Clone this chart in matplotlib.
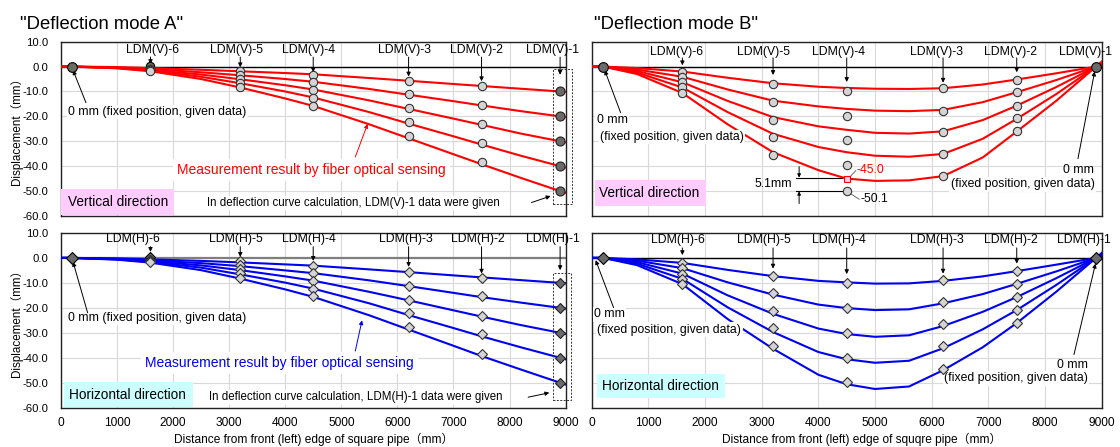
import matplotlib
matplotlib.use("Agg")
import matplotlib.pyplot as plt
from matplotlib.patches import Rectangle

plt.rcParams['font.family'] = ['Liberation Sans', 'Noto Sans CJK JP']

# sensor positions (mm)
fixed_x = 200
ldm_x = [1600, 3200, 4500, 6200, 7500]
ldm1_x = 8900

# deflection curves, mode A (sample positions along the pipe)
xa = [0, 200, 1000, 1600, 2500, 3200, 4000, 4500, 5500, 6200, 7000, 7500, 8200, 8900, 9000]
curveA_V = [
    [0, 0, -0.2, -0.6, -1.3, -1.9, -2.6, -3.1, -4.6, -5.7, -7.0, -7.8, -8.9, -10.0, -10.15],
    [0, 0, -0.4, -1.0, -2.3, -3.5, -5.0, -6.1, -9.0, -11.3, -13.9, -15.6, -17.9, -20.0, -20.3],
    [0, 0, -0.5, -1.3, -3.2, -5.1, -7.5, -9.2, -13.6, -17.0, -20.9, -23.4, -26.9, -30.0, -30.45],
    [0, 0, -0.6, -1.6, -4.1, -6.7, -10.0, -12.4, -18.3, -22.9, -28.0, -31.3, -35.8, -40.0, -40.6],
    [0, 0, -0.7, -1.9, -5.0, -8.4, -12.8, -15.8, -23.2, -28.8, -35.2, -39.2, -44.7, -50.0, -50.75],
]
curveA_H = [
    [0, 0, -0.2, -0.6, -1.2, -1.8, -2.6, -3.1, -4.6, -5.7, -7.0, -7.8, -8.9, -10.0, -10.15],
    [0, 0, -0.4, -1.0, -2.1, -3.3, -5.0, -6.1, -9.0, -11.3, -14.0, -15.7, -17.9, -20.0, -20.3],
    [0, 0, -0.5, -1.3, -3.0, -4.9, -7.4, -9.1, -13.6, -17.0, -21.0, -23.5, -26.9, -30.0, -30.45],
    [0, 0, -0.6, -1.6, -3.9, -6.6, -9.9, -12.3, -18.2, -22.9, -28.1, -31.4, -35.8, -40.0, -40.6],
    [0, 0, -0.7, -1.9, -4.9, -8.3, -12.6, -15.6, -23.0, -28.7, -35.2, -39.3, -44.7, -50.0, -50.75],
]

# deflection curves, mode B
xb = [0, 200, 800, 1600, 2400, 3200, 4000, 4500, 5000, 5600, 6200, 6900, 7500, 8200, 8900, 9000]
curveB_V = [
    [0, 0, -0.6, -2.0, -4.5, -6.7, -8.1, -8.6, -8.9, -9.0, -8.7, -7.2, -5.2, -2.7, 0, 0.4],
    [0, 0, -1.2, -4.1, -9.2, -13.7, -16.0, -17.0, -17.7, -17.9, -17.4, -14.3, -10.3, -5.4, 0, 0.8],
    [0, 0, -1.8, -6.3, -13.8, -20.3, -24.0, -25.4, -26.6, -26.9, -26.0, -21.5, -15.7, -8.2, 0, 1.2],
    [0, 0, -2.4, -8.4, -18.3, -27.0, -32.3, -34.4, -35.8, -36.2, -35.1, -29.0, -21.0, -11.0, 0, 1.6],
    [0, 0, -3.0, -10.6, -23.2, -34.4, -41.6, -45.0, -45.9, -45.7, -44.0, -36.5, -26.1, -13.7, 0, 2.0],
]
curveB_H = [
    [0, 0, -0.6, -2.0, -4.8, -7.3, -9.2, -9.8, -10.3, -10.2, -9.2, -7.4, -5.3, -2.7, 0, 0.4],
    [0, 0, -1.1, -4.1, -9.8, -14.7, -18.7, -20.1, -20.9, -20.6, -18.2, -14.5, -10.4, -5.4, 0, 0.8],
    [0, 0, -1.7, -6.3, -15.0, -22.4, -28.3, -30.5, -31.6, -31.0, -27.3, -21.6, -15.7, -8.1, 0, 1.2],
    [0, 0, -2.3, -8.4, -19.8, -29.7, -37.7, -40.6, -42.0, -41.2, -36.2, -28.6, -20.9, -10.8, 0, 1.6],
    [0, 0, -2.9, -10.5, -24.5, -36.4, -46.8, -50.6, -52.5, -51.5, -45.0, -35.8, -26.1, -13.5, 0, 2.0],
]

# measured values at LDM-6 .. LDM-2 for each loading case
measA_V = [
    [-0.8, -1.9, -3.2, -5.9, -7.8],
    [-1.0, -3.5, -6.2, -11.2, -15.5],
    [-1.2, -5.1, -9.4, -16.7, -23.2],
    [-1.4, -6.7, -12.6, -22.2, -30.8],
    [-1.6, -8.3, -15.8, -28.0, -38.4],
]
measA_H = [
    [-0.8, -1.2, -3.2, -5.7, -7.9],
    [-1.0, -2.8, -6.1, -11.3, -15.3],
    [-1.2, -4.4, -9.1, -16.7, -23.1],
    [-1.4, -6.2, -12.3, -22.0, -30.5],
    [-1.6, -8.0, -15.3, -27.6, -38.4],
]
measB_V = [
    [-2.0, -7.2, -9.9, -8.8, -5.2],
    [-4.1, -14.2, -19.8, -17.7, -10.3],
    [-6.3, -21.3, -29.6, -26.4, -15.7],
    [-8.4, -28.4, -39.5, -35.2, -20.7],
    [-10.6, -35.5, -50.1, -44.0, -26.0],
]
measB_H = [
    [-2.0, -7.1, -10.0, -8.9, -5.3],
    [-4.1, -14.0, -20.1, -17.6, -10.4],
    [-6.3, -21.1, -30.1, -26.4, -15.7],
    [-8.4, -28.1, -39.9, -35.2, -20.9],
    [-10.5, -35.2, -49.9, -44.3, -26.1],
]
# LDM-1 values given to the calculation (mode A)
givenA = [-10, -20, -30, -40, -50]
ldm6_top = 0.3

LIGHT = '#D4D4D4'
DARK = '#6A6A6A'
FS = 8.6


def arrow(ax, xy, xytext, color='black', lw=0.7, ms=6):
    ax.annotate('', xy=xy, xytext=xytext,
                arrowprops=dict(arrowstyle='-|>', color=color, lw=lw,
                                mutation_scale=ms, shrinkA=0, shrinkB=0),
                annotation_clip=False)


def base(ax, zero_color='black', zero_lw=1.0):
    ax.set_xlim(0, 9000)
    ax.set_ylim(-60, 10)
    ax.set_xticks(range(0, 9001, 1000))
    ax.set_yticks(range(-60, 11, 10))
    ax.set_yticklabels(['%.1f' % v for v in range(-60, 11, 10)])
    ax.grid(True, color='#D9D9D9', lw=0.8)
    ax.set_axisbelow(True)
    ax.tick_params(length=0, labelsize=FS)
    ax.tick_params(axis='y', pad=8.9, labelsize=8.1)
    ax.tick_params(axis='x', pad=6.5)
    for s in ax.spines.values():
        s.set_color('#222222')
        s.set_linewidth(1.0)
    ax.axhline(0, color=zero_color, lw=zero_lw, zorder=2)


def ldm_labels(ax, tag, label_x, label_y, tips, arr_from):
    names = ['LDM(%s)-6' % tag, 'LDM(%s)-5' % tag, 'LDM(%s)-4' % tag,
             'LDM(%s)-3' % tag, 'LDM(%s)-2' % tag, 'LDM(%s)-1' % tag]
    for name, lx in zip(names, label_x):
        ax.text(lx, label_y, name, ha='center', va='center', fontsize=8.8)
    for x, t in zip(ldm_x + [ldm1_x], tips):
        if t is not None:
            arrow(ax, (x, t), (x, arr_from))


fig = plt.figure(figsize=(11.2, 4.47), dpi=100)
ax_tl = fig.add_axes([0.0542, 0.5168, 0.4509, 0.390])
ax_bl = fig.add_axes([0.0542, 0.0879, 0.4509, 0.391])
ax_tr = fig.add_axes([0.5283, 0.5168, 0.4554, 0.390])
ax_br = fig.add_axes([0.5283, 0.0879, 0.4554, 0.391])

base(ax_tl)
base(ax_bl, zero_color='#7F7F7F', zero_lw=1.6)
base(ax_tr)
base(ax_br)
ax_tl.tick_params(labelbottom=False)
ax_tr.tick_params(labelbottom=False, labelleft=False)
ax_br.tick_params(labelleft=False)

ylab = 'Displacement（mm）'
for ax in (ax_tl, ax_bl):
    ax.set_ylabel(ylab, fontsize=8.4)
    ax.yaxis.set_label_coords(-0.075, 0.5)
ax_bl.set_xlabel('Distance from front (left) edge of square pipe（mm）', fontsize=FS)
ax_br.set_xlabel('Distance from front (left) edge of squqre pipe（mm）', fontsize=FS)
ax_bl.xaxis.set_label_coords(0.5, -0.145)
ax_br.xaxis.set_label_coords(0.53, -0.145)

fig.text(0.0175, 0.945, '"Deflection mode A"', fontsize=13.3, va='center')
fig.text(0.530, 0.945, '"Deflection mode B"', fontsize=13.3, va='center')

# ---- mode A, vertical
ax = ax_tl
for c in curveA_V:
    ax.plot(xa, c, color='red', lw=1.5, zorder=3, solid_joinstyle='round')
ax.plot(fixed_x, 0, 'o', mfc=DARK, mec='black', ms=7, mew=0.8, zorder=6)
ax.plot(ldm_x[0], ldm6_top, 'o', mfc=DARK, mec='black', ms=6, mew=0.8, zorder=5)
for m in measA_V:
    ax.plot(ldm_x, m, 'o', mfc=LIGHT, mec='#333333', ms=6, mew=0.8, zorder=6)
ax.plot([ldm1_x] * 5, givenA, 'o', mfc=DARK, mec='#222222', ms=6.5, mew=0.8, zorder=6)
ldm_labels(ax, 'V', [1630, 3130, 4420, 6130, 7410, 8770], 6.6,
           [1.0, -0.3, -2.3, -4.0, -5.9, -3.3], 3.8)
ax.add_patch(Rectangle((8768, -55.3), 339, 54.2, fill=False, ls=(0, (2, 1.5)),
                       lw=0.7, ec='#333333', clip_on=False, zorder=4))
ax.text(130, -18.3, '0 mm (fixed position, given data)', fontsize=8.8, va='center',
        bbox=dict(fc='white', ec='none', pad=1))
arrow(ax, (220, -1.5), (450, -14.5))
ax.text(4465, -41.5, 'Measurement result by fiber optical sensing', color='red',
        fontsize=10, ha='center', va='center', bbox=dict(fc='white', ec='none', pad=3))
arrow(ax, (5470, -23.0), (5250, -36.3), color='red')
ax.add_patch(Rectangle((5, -59.7), 2015, 10.6, fc='#FFCCFF', ec='none', zorder=4))
ax.text(130, -54.4, 'Vertical direction', fontsize=9.8, va='center', zorder=5)
ax.text(2612, -54.8, 'In deflection curve calculation, LDM(V)-1 data were given',
        fontsize=8.3, va='center', bbox=dict(fc='white', ec='none', pad=1))
arrow(ax, (8730, -52.0), (8390, -54.6))

# ---- mode A, horizontal
ax = ax_bl
for c in curveA_H:
    ax.plot(xa, c, color='#0000F0', lw=1.5, zorder=3, solid_joinstyle='round')
ax.plot(fixed_x, 0, 'D', mfc=DARK, mec='black', ms=6, mew=0.8, zorder=6)
ax.plot(ldm_x[0], ldm6_top, 'D', mfc=DARK, mec='black', ms=5.5, mew=0.8, zorder=5)
for m in measA_H:
    ax.plot(ldm_x, m, 'D', mfc=LIGHT, mec='#333333', ms=5.5, mew=0.8, zorder=6)
ax.plot([ldm1_x] * 5, givenA, 'D', mfc=DARK, mec='#222222', ms=5.5, mew=0.8, zorder=6)
ldm_labels(ax, 'H', [1295, 3130, 4430, 6155, 7440, 8770], 7.4,
           [2.4, 0.4, -1.2, -3.6, -6.3, -4.9], 4.5)
ax.add_patch(Rectangle((8768, -57.1), 327, 51.1, fill=False, ls=(0, (2, 1.5)),
                       lw=0.7, ec='#333333', clip_on=False, zorder=4))
ax.text(130, -24.1, '0 mm (fixed position, given data)', fontsize=8.8, va='center',
        bbox=dict(fc='white', ec='none', pad=1))
arrow(ax, (220, -1.6), (480, -22.0))
ax.text(3900, -42.2, 'Measurement result by fiber optical sensing', color='#0000F0',
        fontsize=10, ha='center', va='center', bbox=dict(fc='white', ec='none', pad=3))
arrow(ax, (5370, -25.0), (5250, -37.3), color='#0000F0')
ax.add_patch(Rectangle((50, -59.8), 2310, 10.0, fc='#CCFFFF', ec='none', zorder=4))
ax.text(140, -54.8, 'Horizontal direction', fontsize=9.8, va='center', zorder=5)
ax.text(2650, -55.8, 'In deflection curve calculation, LDM(H)-1 data were given',
        fontsize=8.3, va='center', bbox=dict(fc='white', ec='none', pad=1))
arrow(ax, (8707, -54.0), (8330, -55.8))

# ---- mode B, vertical
ax = ax_tr
for c in curveB_V:
    ax.plot(xb, c, color='red', lw=1.5, zorder=3, solid_joinstyle='round')
for m in measB_V:
    ax.plot(ldm_x, m, 'o', mfc=LIGHT, mec='#333333', ms=6, mew=0.8, zorder=6)
ax.plot([fixed_x, ldm1_x], [0, 0], 'o', mfc=DARK, mec='black', ms=7, mew=0.8, zorder=6)
ldm_labels(ax, 'V', [1490, 3030, 4360, 6090, 7390, 8705], 6.0,
           [0.5, -3.4, -6.2, -6.5, -2.3, None], 3.5)
ax.text(90, -21.5, '0 mm', fontsize=8.8, va='center', bbox=dict(fc='white', ec='none', pad=1))
ax.text(150, -28.3, '(fixed position, given data)', fontsize=8.8, va='center',
        bbox=dict(fc='white', ec='none', pad=1))
arrow(ax, (230, -1.5), (510, -18.5))
ax.text(8870, -41.6, '0 mm', fontsize=8.8, va='center', ha='right')
ax.text(8870, -47.3, '(fixed position, given data)', fontsize=8.8, va='center', ha='right',
        bbox=dict(fc='white', ec='none', pad=1))
arrow(ax, (8875, -2.0), (8580, -37.0))
ax.add_patch(Rectangle((60, -55.9), 1960, 10.4, fc='#FFCCFF', ec='none', zorder=4))
ax.text(130, -50.7, 'Vertical direction', fontsize=9.8, va='center', zorder=5)
# -45.0 / -50.1 note at LDM(V)-4
ax.plot(ldm_x[2], curveB_V[4][7], 's', mfc='#FFD0E0', mec='red', ms=4, mew=0.8, zorder=7)
ax.plot([4560, 4660], [-44.2, -41.8], color='#555555', lw=0.6, zorder=4)
ax.text(4680, -41.6, '-45.0', color='red', fontsize=8.8, va='center')
ax.plot([4580, 4720], [-51.2, -53.3], color='#555555', lw=0.6, zorder=4)
ax.text(4740, -53.3, '-50.1', fontsize=8.8, va='center')
ax.plot([3600, 4420], [-44.6, -44.6], color='black', lw=0.8)
ax.plot([3600, 4420], [-50.1, -50.1], color='black', lw=0.8)
arrow(ax, (3660, -44.6), (3660, -40.2), ms=5)
arrow(ax, (3660, -50.1), (3660, -55.0), ms=5)
ax.text(3540, -47.3, '5.1mm', fontsize=8.8, va='center', ha='right')

# ---- mode B, horizontal
ax = ax_br
for c in curveB_H:
    ax.plot(xb, c, color='#0000F0', lw=1.5, zorder=3, solid_joinstyle='round')
for m in measB_H:
    ax.plot(ldm_x, m, 'D', mfc=LIGHT, mec='#333333', ms=5.5, mew=0.8, zorder=6)
ax.plot([fixed_x, ldm1_x], [0, 0], 'D', mfc=DARK, mec='black', ms=6, mew=0.8, zorder=6)
ldm_labels(ax, 'H', [1520, 3040, 4360, 6090, 7395, 8690], 7.1,
           [1.1, -4.3, -6.5, -6.3, -2.3, None], 4.0)
ax.text(40, -22.6, '0 mm', fontsize=8.8, va='center', bbox=dict(fc='white', ec='none', pad=1))
ax.text(100, -28.8, '(fixed position, given data)', fontsize=8.8, va='center',
        bbox=dict(fc='white', ec='none', pad=1))
arrow(ax, (70, -0.9), (386, -19.9))
ax.text(8755, -42.7, '0 mm', fontsize=8.8, va='center', ha='right')
ax.text(8755, -48.2, '(fixed position, given data)', fontsize=8.8, va='center', ha='right',
        bbox=dict(fc='white', ec='none', pad=1))
arrow(ax, (8890, -2.3), (8510, -38.7))
ax.add_patch(Rectangle((90, -56.0), 2262, 9.7, fc='#CCFFFF', ec='none', zorder=4))
ax.text(180, -51.2, 'Horizontal direction', fontsize=9.8, va='center', zorder=5)

fig.savefig("out.png", dpi=100)
